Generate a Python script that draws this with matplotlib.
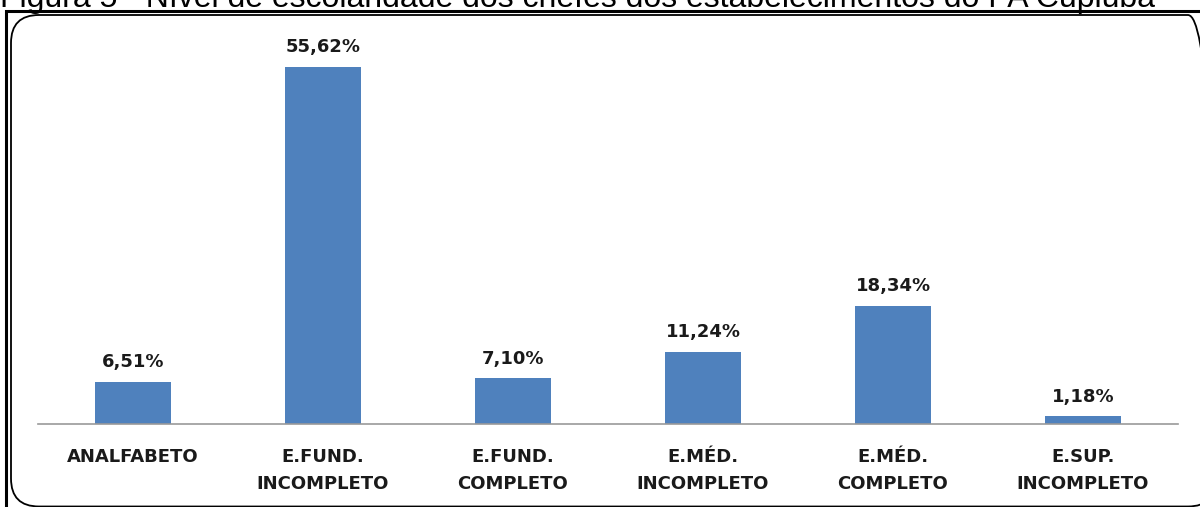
import matplotlib
matplotlib.use("Agg")
import matplotlib.pyplot as plt
from matplotlib.patches import FancyBboxPatch, Rectangle

categories = ["ANALFABETO", "E.FUND.\nINCOMPLETO", "E.FUND.\nCOMPLETO",
              "E.MÉD.\nINCOMPLETO", "E.MÉD.\nCOMPLETO", "E.SUP.\nINCOMPLETO"]
values = [6.51, 55.62, 7.10, 11.24, 18.34, 1.18]
value_labels = ["6,51%", "55,62%", "7,10%", "11,24%", "18,34%", "1,18%"]
title = "Figura 5 - Nível de escolaridade dos chefes dos estabelecimentos do PA Cupiúba"

W, H = 1200, 507
fig = plt.figure(figsize=(W/100, H/100), dpi=100)

# borders (pixel coordinates, origin bottom-left)
fig.add_artist(Rectangle((6, -5), W + 10, H - 11 + 5, transform=None,
                         fill=False, edgecolor="black", linewidth=2.2))
fig.add_artist(FancyBboxPatch((11, 0.5), W + 5, H - 15 - 0.5,
                              boxstyle="round,pad=0,rounding_size=28",
                              transform=None, fill=False,
                              edgecolor="black", linewidth=1.3))

fig.text(0.0, 1 - 7/H, title, fontsize=23, family="Liberation Sans",
         ha="left", va="baseline")

ax = fig.add_axes([38/W, 1 - 424/H, 1140/W, 385/H])
x = range(len(values))
bars = ax.bar(x, values, width=0.4, color="#4F81BD")
ax.set_xlim(-0.5, 5.5)
ax.set_ylim(0, 60)
for xi, v, lab in zip(x, values, value_labels):
    ax.text(xi, v + 1.7, lab, ha="center", va="bottom", fontsize=13,
            fontweight="bold", family="DejaVu Sans", color="#1a1a1a")
ax.set_xticks(list(x))
ax.set_xticklabels(categories, fontsize=13, fontweight="bold", family="DejaVu Sans",
                   linespacing=1.65, color="#1a1a1a")
ax.tick_params(axis="x", length=0, pad=17)
ax.set_yticks([])
for s in ["top", "left", "right"]:
    ax.spines[s].set_visible(False)
ax.spines["bottom"].set_color("#999999")
ax.spines["bottom"].set_linewidth(1.2)
ax.patch.set_alpha(0)

fig.savefig("out.png", dpi=100)
